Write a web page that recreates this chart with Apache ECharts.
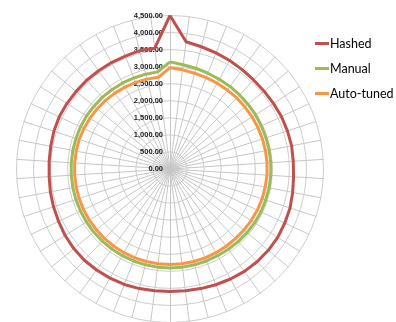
<!DOCTYPE html>
<html>
<head>
<meta charset="utf-8">
<script src="https://cdn.jsdelivr.net/npm/echarts@6/dist/echarts.min.js"></script>
<style>
  html, body { margin: 0; padding: 0; background: #fff; }
  #chart { width: 396px; height: 322px; }
</style>
</head>
<body>
<div id="chart"></div>
<script>
// 50 spokes, listed clockwise starting from the top spoke
const spokeCount = 50;
const axisMax = 4500;
const ringCount = 9;

const seriesNames = ['Hashed', 'Manual', 'Auto-tuned'];

const hashed = [
  4500, 3760, 3700, 3660, 3630, 3600, 3580, 3580, 3590, 3610,
  3620, 3630, 3620, 3630, 3660, 3700, 3720, 3740, 3740, 3730,
  3710, 3680, 3650, 3620, 3600, 3590, 3600, 3620, 3640, 3650,
  3660, 3670, 3660, 3640, 3610, 3590, 3570, 3550, 3550, 3560,
  3580, 3590, 3580, 3570, 3570, 3560, 3560, 3560, 3580, 3570
];

const manual = [
  3140, 3080, 3050, 3020, 3000, 2990, 2980, 2970, 2970, 2960,
  2960, 2960, 2960, 2960, 2960, 2950, 2950, 2940, 2930, 2920,
  2910, 2900, 2900, 2900, 2900, 2900, 2900, 2900, 2900, 2900,
  2900, 2900, 2900, 2900, 2900, 2900, 2900, 2900, 2900, 2900,
  2900, 2900, 2900, 2890, 2890, 2880, 2880, 2870, 2870, 2870
];

const autoTuned = [
  2970, 2930, 2900, 2880, 2870, 2860, 2860, 2850, 2850, 2850,
  2850, 2850, 2850, 2850, 2840, 2840, 2830, 2820, 2810, 2800,
  2800, 2800, 2800, 2800, 2800, 2800, 2800, 2800, 2800, 2800,
  2800, 2800, 2800, 2800, 2800, 2800, 2800, 2800, 2800, 2800,
  2800, 2790, 2780, 2770, 2760, 2750, 2740, 2730, 2720, 2710
];

const colors = ['#C0504D', '#9BBB59', '#F79646'];

// ECharts lays radar indicators out counter-clockwise; reorder the clockwise lists
function toRadarOrder(values) {
  const out = [];
  for (let i = 0; i < spokeCount; i++) out.push(values[(spokeCount - i) % spokeCount]);
  return out;
}

function fmt(v) {
  return Number(v).toLocaleString('en-US', { minimumFractionDigits: 2, maximumFractionDigits: 2 });
}

// only the top spoke carries value labels
const indicators = [];
for (let i = 0; i < spokeCount; i++) {
  const ind = { name: '', max: axisMax, min: 0 };
  if (i !== 0) ind.axisLabel = { show: false };
  indicators.push(ind);
}

const chart = echarts.init(document.getElementById('chart'), null, { renderer: 'canvas' });
chart.setOption({
  animation: false,
  color: colors,
  legend: {
    orient: 'vertical',
    left: 310,
    top: 32,
    itemGap: 12,
    itemWidth: 14,
    itemHeight: 3,
    icon: 'rect',
    data: seriesNames,
    textStyle: { fontFamily: 'Lato', fontSize: 12.5, color: '#000', padding: [0, 0, 0, -4] }
  },
  radar: {
    center: [170, 169],
    radius: 153.5,
    startAngle: 90,
    shape: 'circle',
    splitNumber: ringCount,
    indicator: indicators,
    axisName: { show: false },
    axisLine: { lineStyle: { color: '#c6c6c6', width: 1 } },
    splitLine: { lineStyle: { color: '#cccccc', width: 1 } },
    splitArea: { show: false },
    axisTick: { show: false },
    axisLabel: {
      show: true,
      fontFamily: 'Liberation Sans',
      fontSize: 7.5,
      fontWeight: 'bold',
      color: '#1a1a1a',
      margin: 7,
      formatter: fmt
    }
  },
  series: [{
    type: 'radar',
    symbol: 'none',
    lineStyle: { width: 3 },
    data: [
      { name: seriesNames[0], value: toRadarOrder(hashed), lineStyle: { color: colors[0], width: 3 } },
      { name: seriesNames[1], value: toRadarOrder(manual), lineStyle: { color: colors[1], width: 3 } },
      { name: seriesNames[2], value: toRadarOrder(autoTuned), lineStyle: { color: colors[2], width: 3 } }
    ]
  }]
});
</script>
</body>
</html>
